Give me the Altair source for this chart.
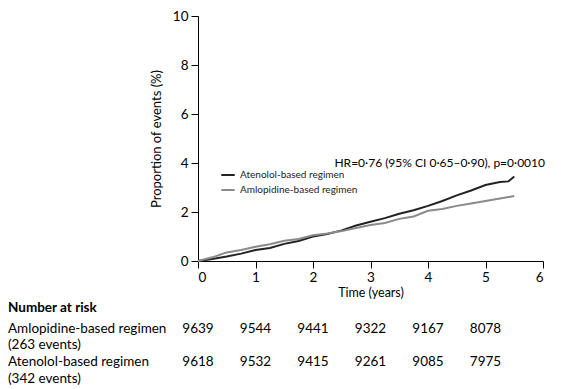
import altair as alt
import pandas as pd

FONT = "Lato"

# Atenolol-based regimen (dark line)
aten_t = [0, 0.25, 0.5, 0.75, 1.0, 1.25, 1.5, 1.75, 2.0, 2.25, 2.5, 2.75, 3.0, 3.25, 3.5, 3.75, 4.0, 4.25, 4.5, 4.75, 5.0, 5.25, 5.4, 5.5]
aten_v = [0, 0.08, 0.18, 0.30, 0.45, 0.53, 0.70, 0.82, 1.00, 1.10, 1.25, 1.45, 1.60, 1.75, 1.93, 2.07, 2.25, 2.45, 2.68, 2.88, 3.10, 3.22, 3.25, 3.45]
# Amlodipine-based regimen (grey line)
amlo_t = [0, 0.25, 0.5, 0.75, 1.0, 1.25, 1.5, 1.75, 2.0, 2.25, 2.5, 2.75, 3.0, 3.25, 3.5, 3.75, 4.0, 4.25, 4.5, 4.75, 5.0, 5.25, 5.5]
amlo_v = [0, 0.15, 0.35, 0.45, 0.58, 0.68, 0.83, 0.90, 1.05, 1.12, 1.22, 1.35, 1.47, 1.55, 1.72, 1.82, 2.05, 2.12, 2.25, 2.35, 2.45, 2.55, 2.65]

series_names = ["Atenolol-based regimen", "Amlopidine-based regimen"]
series_colors = ["#222222", "#8a8a8a"]

risk_years = [0, 1, 2, 3, 4, 5]
risk_amlo = [9639, 9544, 9441, 9322, 9167, 8078]
risk_aten = [9618, 9532, 9415, 9261, 9085, 7975]

annotation = "HR=0·76 (95% CI 0·65–0·90), p=0·0010"

rows = []
for t, v in zip(aten_t, aten_v):
    rows.append({"t": t, "v": v, "s": series_names[0]})
for t, v in zip(amlo_t, amlo_v):
    rows.append({"t": t, "v": v, "s": series_names[1]})
df = pd.DataFrame(rows)

xscale = alt.Scale(domain=[0, 6], nice=False)
yscale = alt.Scale(domain=[0, 10], nice=False)

lines = alt.Chart(df).mark_line(strokeWidth=2).encode(
    x=alt.X("t:Q", scale=xscale,
            axis=alt.Axis(title="Time (years)", values=[0, 1, 2, 3, 4, 5, 6], format="d", grid=False,
                          tickSize=7, labelFontSize=13.5, titleFontSize=12.5, titleFontWeight="normal",
                          labelPadding=2, titlePadding=3, domainColor="#000", tickColor="#000",
                          labelColor="#000", titleColor="#000", labelFont=FONT, titleFont=FONT)),
    y=alt.Y("v:Q", scale=yscale,
            axis=alt.Axis(title="Proportion of events (%)", values=[0, 2, 4, 6, 8, 10], format="d", grid=False,
                          tickSize=7, labelFontSize=13.5, titleFontSize=13, titleFontWeight="normal",
                          labelPadding=3, titlePadding=9, domainColor="#000", tickColor="#000",
                          labelColor="#000", titleColor="#000", labelFont=FONT, titleFont=FONT)),
    color=alt.Color("s:N", scale=alt.Scale(domain=series_names, range=series_colors),
                    legend=alt.Legend(title=None, orient="none", legendX=22, legendY=151,
                                      symbolType="stroke", symbolStrokeWidth=2, symbolSize=180,
                                      labelFontSize=10, labelFont=FONT, labelColor="#222",
                                      rowPadding=2, symbolOffset=0)),
)

ann = alt.Chart(pd.DataFrame({"txt": [annotation]})).mark_text(
    align="right", baseline="middle", fontSize=12, font=FONT, color="#000"
).encode(x=alt.value(347), y=alt.value(147), text="txt:N")

labels_df = pd.DataFrame({
    "txt": ["Number at risk", "Amlopidine-based regimen", "(263 events)", "Atenolol-based regimen", "(342  events)"],
    "yy": [292, 313, 329, 346, 363],
    "w": ["bold", "normal", "normal", "normal", "normal"],
})
lab_norm = alt.Chart(labels_df[labels_df.w == "normal"]).mark_text(
    align="left", baseline="middle", fontSize=13.5, font=FONT, color="#000"
).encode(x=alt.value(-190), y=alt.Y("yy:Q", scale=None, axis=None), text="txt:N")
lab_bold = alt.Chart(labels_df[labels_df.w == "bold"]).mark_text(
    align="left", baseline="middle", fontSize=13.5, font=FONT, fontWeight="bold", color="#000"
).encode(x=alt.value(-190), y=alt.Y("yy:Q", scale=None, axis=None), text="txt:N")

risk_rows = []
for t, n in zip(risk_years, risk_amlo):
    risk_rows.append({"t": t, "n": str(n), "yy": 313})
for t, n in zip(risk_years, risk_aten):
    risk_rows.append({"t": t, "n": str(n), "yy": 346})
risk = alt.Chart(pd.DataFrame(risk_rows)).mark_text(
    align="center", baseline="middle", fontSize=13.5, font=FONT, color="#000"
).encode(x=alt.X("t:Q", scale=xscale), y=alt.Y("yy:Q", scale=None, axis=None), text="n:N")

chart = alt.layer(lines, ann, lab_norm, lab_bold, risk).properties(
    width=345, height=245, padding={"left": 0, "top": 1, "right": 5, "bottom": 0}, background="white"
).configure_view(stroke=None).resolve_scale(y="independent")

chart.save("out.html", embed_options={"renderer": "svg", "actions": False})
